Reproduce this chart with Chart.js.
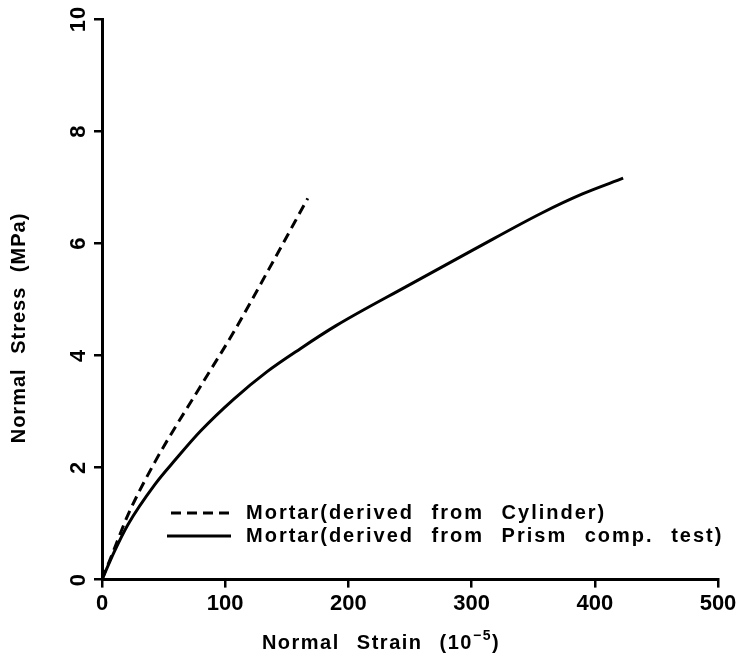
<!DOCTYPE html>
<html>
<head>
<meta charset="utf-8">
<script src="https://cdn.jsdelivr.net/npm/chart.js@4.4.1/dist/chart.umd.min.js"></script>
<style>
    html, body { margin: 0; padding: 0; background: #ffffff; }
    #wrap { width: 741px; height: 662px; }
</style>
</head>
<body>
<div id="wrap"><canvas id="stressChart" width="741" height="662"></canvas></div>
<script>
// Mortar derived from cylinder test (dashed)
const cylinderStrain = [0, 10, 21, 43, 80, 107, 135, 167];
const cylinderStress = [0, 0.55, 1.15, 2.1, 3.45, 4.42, 5.52, 6.8];

// Mortar derived from prism compression test (solid)
const prismStrain = [0, 10, 21, 43, 60, 80, 107, 134, 161, 190, 248, 302, 357, 390, 423];
const prismStress = [0, 0.5, 0.98, 1.7, 2.15, 2.65, 3.22, 3.71, 4.12, 4.53, 5.24, 5.89, 6.54, 6.88, 7.16];

const seriesLabels = ['Mortar(derived from Cylinder)', 'Mortar(derived from Prism comp. test)'];
const xTicks = [0, 100, 200, 300, 400, 500];
const yTicks = [0, 2, 4, 6, 8, 10];
const xTitle = ['Normal Strain (10', '\u22125', ')'];
const yTitle = 'Normal Stress (MPa)';

const FONT = '"Liberation Sans", Arial, sans-serif';

function toPoints(xs, ys) {
    return xs.map((x, i) => ({ x: x, y: ys[i] }));
}

// draws rotated y tick labels, axis titles and the in-plot legend
const extrasPlugin = {
    id: 'extras',
    afterDraw(chart) {
        const ctx = chart.ctx;
        const ys = chart.scales.y;
        ctx.save();
        ctx.fillStyle = '#000';

        // y tick labels, rotated
        ctx.font = 'bold 22px ' + FONT;
        ctx.textAlign = 'center';
        ctx.textBaseline = 'middle';
        ctx.letterSpacing = '1px';
        yTicks.forEach(v => {
            ctx.save();
            ctx.translate(ys.left - 15, ys.getPixelForValue(v));
            ctx.rotate(-Math.PI / 2);
            ctx.fillText(String(v), 0, 0);
            ctx.restore();
        });

        // x title with superscript exponent
        ctx.letterSpacing = '1.5px';
        ctx.wordSpacing = '10px';
        ctx.textAlign = 'left';
        ctx.textBaseline = 'alphabetic';
        const big = 'bold 20px ' + FONT;
        const small = 'bold 14px ' + FONT;
        ctx.font = big;
        const w0 = ctx.measureText(xTitle[0]).width;
        const w2 = ctx.measureText(xTitle[2]).width;
        ctx.font = small;
        const w1 = ctx.measureText(xTitle[1]).width;
        let tx = 381 - (w0 + w1 + w2) / 2;
        ctx.font = big;
        ctx.fillText(xTitle[0], tx, 649);
        tx += w0;
        ctx.font = small;
        ctx.fillText(xTitle[1], tx, 640);
        tx += w1;
        ctx.font = big;
        ctx.fillText(xTitle[2], tx, 649);

        // y title
        ctx.textAlign = 'center';
        ctx.textBaseline = 'middle';
        ctx.letterSpacing = '1px';
        ctx.wordSpacing = '8px';
        ctx.save();
        ctx.translate(19, 328);
        ctx.rotate(-Math.PI / 2);
        ctx.fillText(yTitle, 0, 0);
        ctx.restore();

        // legend
        ctx.letterSpacing = '2px';
        ctx.wordSpacing = '10px';
        const rows = [513, 536];
        chart.data.datasets.forEach((ds, i) => {
            const y = rows[i];
            ctx.beginPath();
            ctx.lineWidth = 3;
            ctx.strokeStyle = '#000';
            ctx.setLineDash(ds.borderDash || []);
            ctx.moveTo(i === 0 ? 171 : 167, y);
            ctx.lineTo(231, y);
            ctx.stroke();
            ctx.setLineDash([]);
            ctx.textAlign = 'left';
            ctx.fillText(ds.label, 246, y);
        });
        ctx.restore();
    }
};

new Chart(document.getElementById('stressChart').getContext('2d'), {
    type: 'line',
    data: {
        datasets: [{
            label: seriesLabels[0],
            data: toPoints(cylinderStrain, cylinderStress),
            borderColor: '#000',
            borderWidth: 3,
            borderDash: [10, 6],
            pointRadius: 0,
            cubicInterpolationMode: 'monotone',
            fill: false
        }, {
            label: seriesLabels[1],
            data: toPoints(prismStrain, prismStress),
            borderColor: '#000',
            borderWidth: 3,
            pointRadius: 0,
            cubicInterpolationMode: 'monotone',
            fill: false
        }]
    },
    options: {
        responsive: false,
        animation: false,
        layout: {
            padding: { left: 94, right: 23, top: 19, bottom: 42 }
        },
        scales: {
            x: {
                type: 'linear',
                min: 0,
                max: 500,
                afterBuildTicks: scale => { scale.ticks = xTicks.map(v => ({ value: v })); },
                border: { color: '#000', width: 3 },
                grid: { drawOnChartArea: false, drawTicks: true, tickLength: 8, color: '#000', lineWidth: 2.5 },
                ticks: { color: '#000', font: { family: FONT, size: 22, weight: 'bold' }, padding: 3, maxRotation: 0 }
            },
            y: {
                type: 'linear',
                min: 0,
                max: 10,
                afterBuildTicks: scale => { scale.ticks = yTicks.map(v => ({ value: v })); },
                border: { color: '#000', width: 3 },
                grid: { drawOnChartArea: false, drawTicks: true, tickLength: 8, color: '#000', lineWidth: 2.5 },
                ticks: { display: false }
            }
        },
        plugins: {
            legend: { display: false },
            tooltip: { enabled: false }
        }
    },
    plugins: [extrasPlugin]
});
</script>
</body>
</html>
